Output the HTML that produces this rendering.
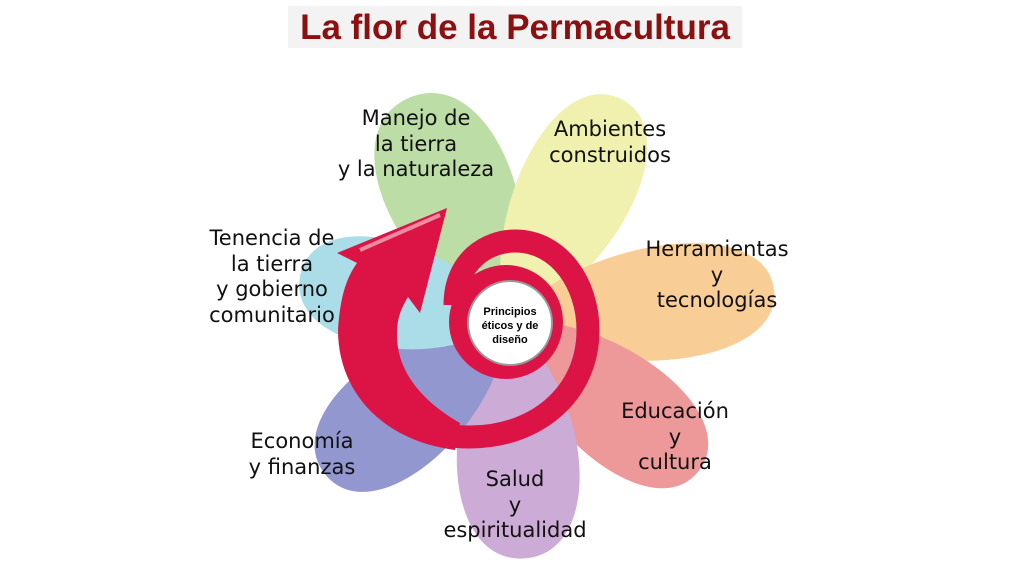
<!DOCTYPE html><html><head><style>
body{margin:0;width:1024px;height:576px;background:#fff;overflow:hidden;position:relative;font-family:"DejaVu Sans","Liberation Sans",sans-serif}
.t{position:absolute;left:288px;top:6px;width:454px;height:42px;background:#f3f3f3;color:#8c1010;font:bold 35px "Liberation Sans",sans-serif;text-align:center;line-height:44px}
.l{position:absolute;font-size:21px;line-height:25.5px;text-align:center;color:#111;white-space:nowrap;transform:translateX(-50%)}
</style></head><body>
<div class="t">La flor de la Permacultura</div>
<svg width="1024" height="576" style="position:absolute;left:0;top:0">
<g opacity="0.78" style="mix-blend-mode:multiply">
<path d="M0 0 C73 -84,245 -88,245 0 C245 88,73 84,0 0Z" fill="#a9d38d" transform="translate(508 322) rotate(-114)"/>
<path d="M0 0 C75 -75,250 -78,250 0 C250 78,75 75,0 0Z" fill="#ecec98" transform="translate(508 322) rotate(-63)"/>
<path d="M0 0 C80 -75,268 -78,268 0 C268 78,80 75,0 0Z" fill="#f8c078" transform="translate(508 322) rotate(-7)"/>
<path d="M0 0 C73 -72,242 -76,242 0 C242 76,73 72,0 0Z" fill="#e87c7c" transform="translate(508 322) rotate(38)"/>
<path d="M0 0 C71 -80,237 -83,237 0 C237 83,71 80,0 0Z" fill="#bf93cc" transform="translate(508 322) rotate(86)"/>
<path d="M0 0 C71 -75,238 -78,238 0 C238 78,71 75,0 0Z" fill="#7579c2" transform="translate(508 322) rotate(140)"/>
<path d="M0 0 C64 -70,213 -73,213 0 C213 73,64 70,0 0Z" fill="#92d4e0" transform="translate(508 322) rotate(193)"/>
</g>
<circle cx="506" cy="322" r="57" fill="#dc1446"/>
<path d="M455 305 C455 260,488 241,515 241 C560 241,588 285,588 330 C588 395,535 437,470 437 C430 437,405 425,390 405" fill="none" stroke="#dc1446" stroke-width="23"/>
<path d="M338 330 C340 300,345 280,357 263 L337 253 L447 208 L420 313 L408 297 C400 310,397 320,397 335 C397 370,420 400,460 423 L455 450 C380 440,338 390,338 330 Z" fill="#dc1446"/>
<path d="M360 250 L440 215" stroke="#f08aa0" stroke-width="4" fill="none"/>
<circle cx="510" cy="323" r="42" fill="#fff" stroke="#999" stroke-width="2"/>
<text x="510" y="315" font-family="Liberation Sans" font-weight="bold" font-size="11" text-anchor="middle">Principios</text>
<text x="510" y="329" font-family="Liberation Sans" font-weight="bold" font-size="11" text-anchor="middle">éticos y de</text>
<text x="510" y="343" font-family="Liberation Sans" font-weight="bold" font-size="11" text-anchor="middle">diseño</text>
</svg>
<div class="l" style="left:416px;top:106px">Manejo de<br>la tierra<br>y la naturaleza</div>
<div class="l" style="left:610px;top:117px">Ambientes<br>construidos</div>
<div class="l" style="left:717px;top:237px">Herramientas<br>y<br>tecnologías</div>
<div class="l" style="left:675px;top:399px">Educación<br>y<br>cultura</div>
<div class="l" style="left:515px;top:467px">Salud<br>y<br>espiritualidad</div>
<div class="l" style="left:302px;top:429px">Economía<br>y finanzas</div>
<div class="l" style="left:272px;top:226px">Tenencia de<br>la tierra<br>y gobierno<br>comunitario</div>
</body></html>
